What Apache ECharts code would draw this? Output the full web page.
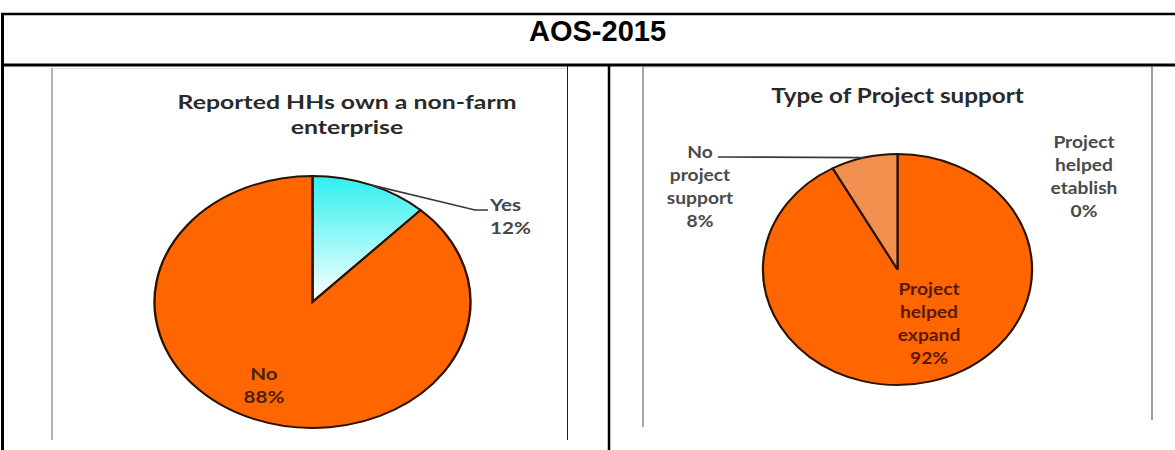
<!DOCTYPE html>
<html>
<head>
<meta charset="utf-8">
<script src="https://cdn.jsdelivr.net/npm/echarts@6/dist/echarts.min.js"></script>
<style>
html,body{margin:0;padding:0;background:#ffffff;}
#main{width:1175px;height:450px;}
</style>
</head>
<body>
<div id="main"></div>
<script>
// ---- data ----
const pageTitle = 'AOS-2015';
const leftTitle = ['Reported HHs own a non-farm', 'enterprise'];
const leftCategories = ['Yes', 'No'];
const leftValues = [12, 88];
const rightTitle = ['Type of Project support'];
const rightCategories = ['Project helped etablish', 'Project helped expand', 'No project support'];
const rightValues = [0, 92, 8];

// ---- layout / style ----
const leftPanel = {
  categories: leftCategories, values: leftValues,
  cx: 312.5, cy: 302, r: 126, sx: 1.254,
  fills: [
    new echarts.graphic.LinearGradient(0, 0, 0, 1, [
      { offset: 0, color: '#2ef0f0' },
      { offset: 1, color: '#ffffff' }
    ]),
    '#ff6600'
  ],
  labels: [
    { x: 490, y: 216.5, align: 'left', color: '#454545', line: [[475, 210], [488, 210]] },
    { x: 264, y: 385, align: 'center', color: '#4a2208' }
  ],
  title: leftTitle, titleX: 347, titleY: 102, titleSize: 19.8
};
const rightPanel = {
  categories: rightCategories, values: rightValues,
  cx: 897.5, cy: 269.5, r: 115.5, sx: 1.1645,
  fills: ['#ff6600', '#ff6600', '#f2904f'],
  labels: [
    { x: 1084, y: 176.5, align: 'center', color: '#4a4a4a' },
    { x: 929, y: 323.5, align: 'center', color: '#5a1a00' },
    { x: 700, y: 186, align: 'center', color: '#4a4a4a', line: [[718, 157]] }
  ],
  title: rightTitle, titleX: 897.5, titleY: 95, titleSize: 20.8
};

const labelFont = { fontFamily: 'Lato', fontWeight: 'bold', fontSize: 16.5, lineHeight: 23 };

function labelText(name, value) {
  return name.split(' ').join('\n') + '\n' + value + '%';
}

function makePieSeries(cfg) {
  const total = cfg.values.reduce((a, b) => a + b, 0);
  const starts = [];
  let acc = 0;
  cfg.values.forEach(v => { starts.push(acc); acc += v; });
  return {
    type: 'custom',
    coordinateSystem: 'none',
    silent: true,
    data: cfg.values.map((v, i) => ({ name: cfg.categories[i], value: v })),
    renderItem: function (params, api) {
      const i = params.dataIndex;
      const v = api.value(0);
      const a0 = -Math.PI / 2 + 2 * Math.PI * starts[i] / total;
      const a1 = a0 + 2 * Math.PI * v / total;
      const children = [];
      if (v > 0) {
        children.push({
          type: 'sector',
          x: cfg.cx, y: cfg.cy, scaleX: cfg.sx,
          shape: { cx: 0, cy: 0, r: cfg.r, r0: 0, startAngle: a0, endAngle: a1, clockwise: true },
          style: { fill: cfg.fills[i], stroke: '#2a1300', lineWidth: 1.9, strokeNoScale: true }
        });
      }
      const lab = cfg.labels[i];
      if (lab.line) {
        const mid = (a0 + a1) / 2;
        const ex = cfg.cx + cfg.sx * cfg.r * Math.cos(mid);
        const ey = cfg.cy + cfg.r * Math.sin(mid);
        children.push({
          type: 'polyline', z2: 20,
          shape: { points: [[ex, ey]].concat(lab.line) },
          style: { stroke: '#3a3a3a', lineWidth: 1.7, fill: null }
        });
      }
      children.push({
        type: 'text', z2: 30,
        x: lab.x, y: lab.y, scaleX: cfg.sx,
        style: Object.assign({
          text: labelText(cfg.categories[i], v),
          fill: lab.color, align: lab.align, verticalAlign: 'middle'
        }, labelFont)
      });
      return { type: 'group', children: children };
    }
  };
}

function titleGraphic(cfg) {
  return {
    type: 'text', x: cfg.titleX, y: cfg.titleY - 12.5, scaleX: cfg.sx,
    style: {
      text: cfg.title.join('\n'), fill: '#2a2a2a', align: 'center', verticalAlign: 'top',
      fontFamily: 'Lato', fontWeight: 'bold', fontSize: cfg.titleSize, lineHeight: 25
    }
  };
}

function line(x1, y1, x2, y2, color, w) {
  return { type: 'line', shape: { x1: x1, y1: y1, x2: x2, y2: y2 }, style: { stroke: color, lineWidth: w }, silent: true };
}

const chart = echarts.init(document.getElementById('main'), null, { renderer: 'svg' });

chart.setOption({
  animation: false,
  backgroundColor: '#ffffff',
  graphic: [
    // table grid
    line(1, 14, 1175, 14, '#000000', 2.5),
    line(2.5, 13, 2.5, 450, '#000000', 3),
    line(1, 65, 1175, 65, '#000000', 3),
    line(609, 64, 609, 450, '#000000', 2.5),
    // left embedded picture frame
    line(52, 68.5, 567, 68.5, '#e2e2e2', 1),
    line(52, 68, 52, 440, '#8c8c8c', 1.3),
    line(567.5, 66, 567.5, 440, '#1e1e1e', 1),
    // right embedded picture frame
    line(643, 67.5, 1152, 67.5, '#e6e6e6', 1),
    line(643, 67, 643, 427, '#909090', 1.6),
    line(1152, 67, 1152, 420, '#858585', 1.6),
    {
      type: 'text', x: 597.5, y: 31,
      style: {
        text: pageTitle, fill: '#000000', align: 'center', verticalAlign: 'middle',
        fontFamily: 'Liberation Sans', fontWeight: 'bold', fontSize: 29
      }
    },
    titleGraphic(leftPanel), titleGraphic(rightPanel)
  ],
  series: [makePieSeries(leftPanel), makePieSeries(rightPanel)]
});
</script>
</body>
</html>
